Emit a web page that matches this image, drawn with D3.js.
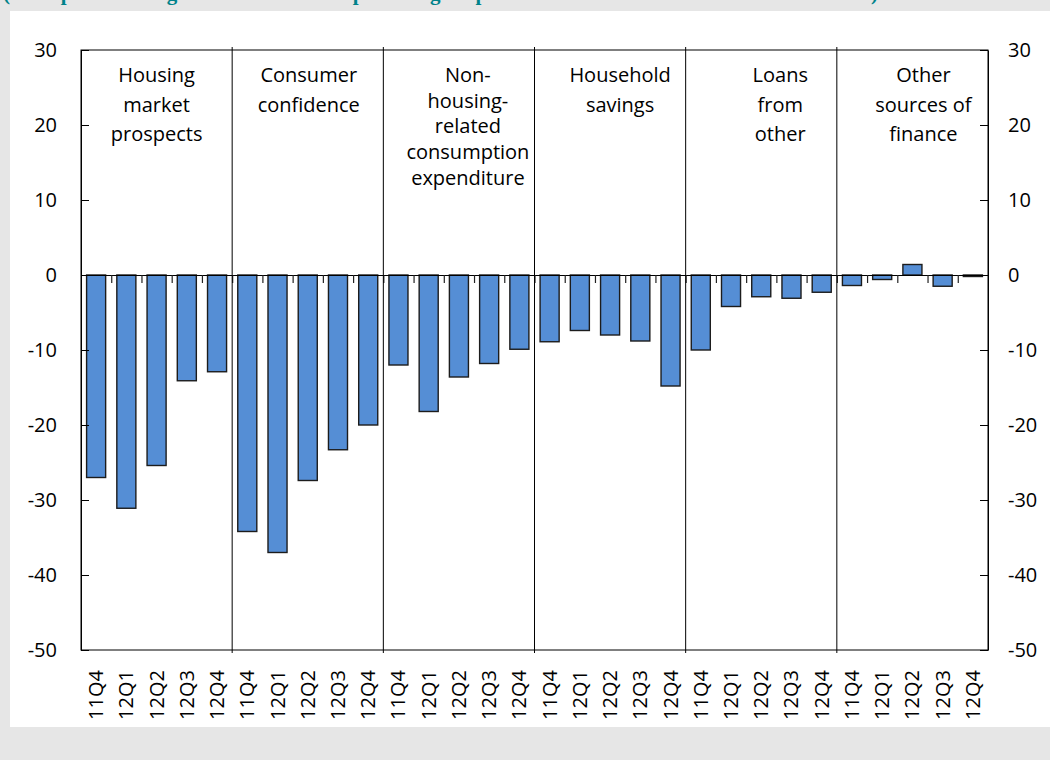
<!DOCTYPE html>
<html>
<head>
<meta charset="utf-8">
<script src="https://cdn.jsdelivr.net/npm/d3@7"></script>
<style>
  body { margin: 0; background: #e6e6e6; }
  svg { display: block; }
</style>
</head>
<body>
<div id="canvas"></div>
<script>
"use strict"

/* Data */
let quarters = ["11Q4", "12Q1", "12Q2", "12Q3", "12Q4"];
let groupNames = ["Housing market prospects", "Consumer confidence",
    "Non-housing-related consumption expenditure", "Household savings",
    "Loans from other", "Other sources of finance"];
let groupLines = [
    ["Housing", "market", "prospects"],
    ["Consumer", "confidence"],
    ["Non-", "housing-", "related", "consumption", "expenditure"],
    ["Household", "savings"],
    ["Loans", "from", "other"],
    ["Other", "sources of", "finance"]
];
let housingProspects = [-27.0, -31.1, -25.4, -14.1, -12.9];
let consumerConfidence = [-34.2, -37.0, -27.4, -23.3, -20.0];
let nonHousingSpending = [-12.0, -18.2, -13.6, -11.8, -9.9];
let householdSavings = [-8.9, -7.4, -8.0, -8.8, -14.8];
let loansFromOther = [-10.0, -4.2, -2.9, -3.1, -2.3];
let otherFinance = [-1.4, -0.6, 1.4, -1.5, -0.2];
let yTicks = [-50, -40, -30, -20, -10, 0, 10, 20, 30];

let series = [housingProspects, consumerConfidence, nonHousingSpending,
    householdSavings, loansFromOther, otherFinance];

/* flat table: one row per bar */
let rows = [];
series.forEach((vals, g) => {
    vals.forEach((v, q) => {
        rows.push({key: g + "|" + quarters[q], group: g, quarter: quarters[q], value: v});
    });
});

/* layout */
let W = 1050, H = 760;
let plotL = 81, plotR = 988, plotT = 50, plotB = 650;
let labelShift = [0, 1, 9, 10, 19, 11];   // text boxes are not quite centred
let lineGap = [29.5, 29.5, 25.7, 29.5, 29.5, 29.5];

let drawing = d3.select("#canvas")
    .append("svg")
    .attr("width", W)
    .attr("height", H);

/* white panel, title is cut off above it */
drawing.append("rect")
    .attr("x", 10).attr("y", 11)
    .attr("width", W - 10).attr("height", 716)
    .attr("fill", "white");

drawing.append("text")
    .attr("x", 3).attr("y", 0)
    .attr("textLength", 875)
    .attr("lengthAdjust", "spacing")
    .attr("font-family", "Liberation Serif, serif")
    .attr("font-weight", "bold")
    .attr("font-size", 21)
    .attr("fill", "#00828a")
    .text("(net percentages of banks reporting a positive contribution to demand)");

let x = d3.scaleBand()
    .domain(rows.map(d => d.key))
    .range([plotL, plotR])
    .paddingInner(0.37)
    .paddingOuter(0.185);

let idx = d3.scaleLinear().domain([0, rows.length]).range([plotL, plotR]);

let y = d3.scaleLinear().domain([-50, 30]).range([plotB, plotT]);

let font = "'Open Sans', sans-serif";

/* plot frame */
drawing.append("rect")
    .attr("x", plotL).attr("y", plotT)
    .attr("width", plotR - plotL).attr("height", plotB - plotT)
    .attr("fill", "none")
    .attr("stroke", "black")
    .attr("stroke-width", 1);

/* bars */
drawing.append("g")
    .selectAll("rect")
    .data(rows)
    .join("rect")
    .attr("x", d => x(d.key))
    .attr("width", x.bandwidth())
    .attr("y", d => y(Math.max(0, d.value)))
    .attr("height", d => Math.abs(y(d.value) - y(0)))
    .attr("fill", "#558ed5")
    .attr("stroke", "#1c1c1c")
    .attr("stroke-width", 1.4);

/* zero line with small ticks between bars */
let zeroAxis = drawing.append("g")
    .attr("transform", `translate(0,${y(0)})`)
    .call(d3.axisBottom(idx)
        .tickValues(d3.range(1, rows.length))
        .tickSize(8)
        .tickSizeOuter(0)
        .tickFormat(""));
zeroAxis.selectAll("line").attr("stroke", "#222").attr("stroke-width", 1.2);
zeroAxis.select(".domain").attr("stroke", "black").attr("stroke-width", 1.2);

/* group separators */
drawing.append("g")
    .selectAll("line")
    .data(d3.range(1, groupNames.length))
    .join("line")
    .attr("x1", g => idx(g * quarters.length))
    .attr("x2", g => idx(g * quarters.length))
    .attr("y1", plotT - 3)
    .attr("y2", plotB + 3)
    .attr("stroke", "black")
    .attr("stroke-width", 1);

/* y axes on both sides */
let leftAxis = drawing.append("g")
    .attr("transform", `translate(${plotL},0)`)
    .call(d3.axisLeft(y)
        .tickValues(yTicks)
        .tickSize(-8)
        .tickSizeOuter(0)
        .tickPadding(24)
        .tickFormat(d => String(d)));

let rightAxis = drawing.append("g")
    .attr("transform", `translate(${plotR},0)`)
    .call(d3.axisRight(y)
        .tickValues(yTicks)
        .tickSize(-8)
        .tickSizeOuter(0)
        .tickPadding(20)
        .tickFormat(d => String(d)));

[leftAxis, rightAxis].forEach(ax => {
    ax.selectAll("text")
        .attr("font-family", font)
        .attr("font-size", 20)
        .attr("fill", "black");
    ax.selectAll("line").attr("stroke", "black");
    ax.select(".domain").attr("stroke", "black");
});

/* quarter labels, rotated */
let bottomAxis = drawing.append("g")
    .attr("transform", `translate(0,${plotB})`)
    .call(d3.axisBottom(x)
        .tickSize(0)
        .tickFormat(k => k.split("|")[1]));
bottomAxis.select(".domain").remove();
bottomAxis.selectAll("text")
    .attr("font-family", font)
    .attr("font-size", 20)
    .attr("fill", "black")
    .attr("transform", "rotate(-90)")
    .attr("text-anchor", "end")
    .attr("x", -20)
    .attr("y", 0)
    .attr("dy", "0.35em");

/* group titles */
groupLines.forEach((lines, g) => {
    let cx = (idx(g * quarters.length) + idx((g + 1) * quarters.length)) / 2 + labelShift[g];
    drawing.append("text")
        .attr("font-family", font)
        .attr("font-size", 20)
        .attr("fill", "black")
        .attr("text-anchor", "middle")
        .selectAll("tspan")
        .data(lines)
        .join("tspan")
        .attr("x", cx)
        .attr("y", (d, i) => 82 + i * lineGap[g])
        .text(d => d);
});
</script>
</body>
</html>
